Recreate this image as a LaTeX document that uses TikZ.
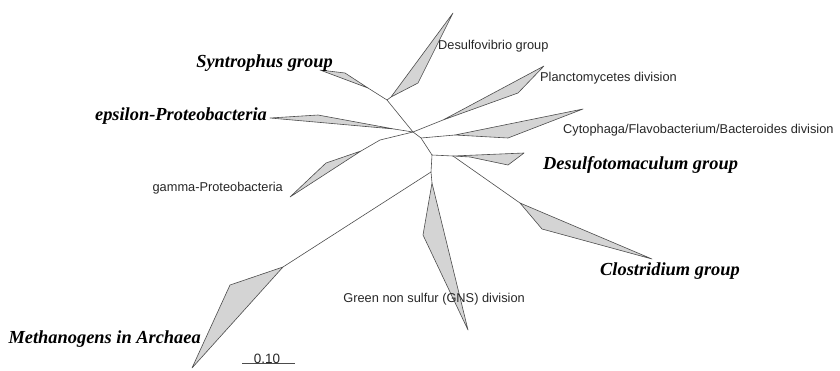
\documentclass[tikz,border=0pt]{standalone}
\usepackage{fontspec}
\setmainfont{Liberation Serif}
\setsansfont{Liberation Sans}
\begin{document}
\begin{tikzpicture}[x=1pt,y=-1pt,
  branch/.style={draw=black!70, line width=0.6pt},
  clade/.style={draw=black!70, fill=black!17, line width=0.6pt, line join=round},
  bigl/.style={font=\fontsize{18.4}{20}\selectfont\bfseries\itshape, inner sep=0pt},
  smalll/.style={font=\fontsize{12.8}{14}\selectfont\sffamily, inner sep=0pt, text=black!85}]
\useasboundingbox (0,0) rectangle (840,370);
% internal nodes
\coordinate (A) at (387,100);
\coordinate (B) at (413,132);
\coordinate (E) at (421,138);
\coordinate (C) at (432,155);
\coordinate (D) at (431,172);
\coordinate (F) at (453,156);
\coordinate (G) at (380,140);
% clade bases
\coordinate (sy0) at (368,88);
\coordinate (dv0) at (391,97);
\coordinate (ep0) at (394,129);
\coordinate (ga0) at (361,151);
\coordinate (pl0) at (443,120);
\coordinate (cy0) at (455,135);
\coordinate (cl0) at (520,203);
\coordinate (gn0) at (432,183);
\coordinate (me0) at (283,267);
% backbone
\draw[branch] (A) -- (B) -- (E) -- (C) -- (D);
\draw[branch] (C) -- (F);
\draw[branch] (A) -- (sy0);
\draw[branch] (A) -- (dv0);
\draw[branch] (B) -- (ep0);
\draw[branch] (B) -- (G) -- (ga0);
\draw[branch] (B) -- (pl0);
\draw[branch] (E) -- (cy0);
\draw[branch] (F) -- (cl0);
\draw[branch] (D) -- (gn0);
\draw[branch] (D) -- (me0);
% clades
\draw[clade] (sy0) -- (345,73) -- (320,70) -- cycle;
\draw[clade] (dv0) -- (418,83) -- (453,13) -- cycle;
\draw[clade] (ep0) -- (318,115) -- (270,118) -- cycle;
\draw[clade] (ga0) -- (326,163) -- (290,197) -- cycle;
\draw[clade] (pl0) -- (544,66) -- (518,93) -- cycle;
\draw[clade] (cy0) -- (583,109) -- (508,138) -- cycle;
\draw[clade] (F) -- (524,153) -- (508,165) -- (470,157) -- cycle;
\draw[clade] (cl0) -- (652,259) -- (542,229) -- cycle;
\draw[clade] (gn0) -- (468,330) -- (423,235) -- cycle;
\draw[clade] (me0) -- (192,368) -- (230,285) -- cycle;
% labels
\node[bigl, anchor=base east] (lsy) at (333,67) {Syntrophus group};
\node[bigl, anchor=base east] (lep) at (267,120) {epsilon-Proteobacteria};
\node[bigl, anchor=base west] (lds) at (543,169) {Desulfotomaculum group};
\node[bigl, anchor=base west] (lcl) at (600,275) {Clostridium group};
\node[bigl, anchor=base east] (lme) at (201,343) {Methanogens in Archaea};
\node[smalll, anchor=base west] (ldv) at (438,49) {Desulfovibrio group};
\node[smalll, anchor=base west] (lpl) at (540,81) {Planctomycetes division};
\node[smalll, anchor=base west] (lcy) at (563,133) {Cytophaga/Flavobacterium/Bacteroides division};
\node[smalll, anchor=base east] (lga) at (283,191) {gamma-Proteobacteria};
\node[smalll, anchor=base east] (lgn) at (525,302) {Green non sulfur (GNS) division};
% scale bar
\coordinate (sb1) at (242,363);
\coordinate (sb2) at (295,363);
\draw[branch] (sb1) -- (sb2);
\node[smalll, anchor=base, font=\fontsize{13.5}{14}\selectfont\sffamily] (lsb) at (267,363) {0.10};
\end{tikzpicture}
\end{document}
